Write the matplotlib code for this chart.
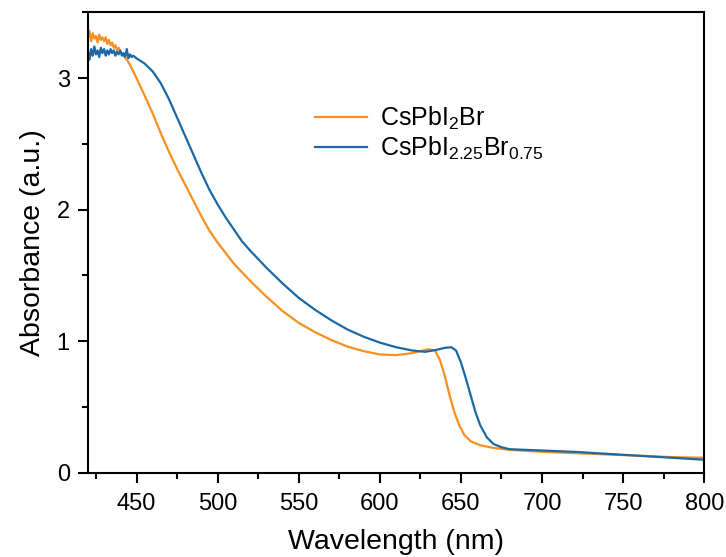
import matplotlib
matplotlib.use("Agg")
import matplotlib.pyplot as plt
from matplotlib.ticker import MultipleLocator

plt.rcParams['font.family'] = ['Liberation Sans', 'DejaVu Sans']
plt.rcParams['mathtext.fontset'] = 'custom'
plt.rcParams['mathtext.rm'] = 'Liberation Sans'
plt.rcParams['mathtext.it'] = 'Liberation Sans:italic'

# CsPbI2Br absorbance
wl_a = [420, 421, 422, 423, 424, 425, 426, 427, 428, 429, 430, 431, 432, 433, 434,
        435, 436, 437, 438, 439, 440, 442, 444, 446, 448, 450, 453, 456, 460, 465,
        470, 475, 480, 485, 490, 495, 500, 510, 520, 530, 540, 550, 560, 570, 580,
        590, 600, 610, 620, 625, 630, 634, 637, 640, 643, 646, 649, 652, 656, 662,
        670, 680, 700, 720, 740, 760, 780, 800]
abs_a = [3.30, 3.36, 3.28, 3.34, 3.30, 3.32, 3.27, 3.33, 3.29, 3.31, 3.28, 3.31, 3.26, 3.29, 3.25,
         3.27, 3.23, 3.25, 3.21, 3.23, 3.20, 3.17, 3.14, 3.10, 3.05, 3.00, 2.92, 2.84, 2.73, 2.58,
         2.44, 2.31, 2.19, 2.07, 1.95, 1.84, 1.75, 1.59, 1.46, 1.34, 1.23, 1.14, 1.07, 1.01, 0.96,
         0.925, 0.90, 0.895, 0.91, 0.925, 0.94, 0.93, 0.86, 0.74, 0.59, 0.46, 0.36, 0.29, 0.24, 0.21,
         0.19, 0.175, 0.16, 0.15, 0.14, 0.13, 0.12, 0.115]

# CsPbI2.25Br0.75 absorbance
wl_b = [420, 421, 422, 423, 424, 425, 426, 427, 428, 429, 430, 431, 432, 433, 434,
        435, 436, 437, 438, 439, 440, 441, 442, 443, 444, 445, 446, 447, 448, 450,
        455, 460, 465, 470, 475, 480, 485, 490, 495, 500, 505, 510, 515, 520, 530,
        540, 550, 560, 570, 580, 590, 600, 610, 620, 628, 635, 640, 644, 647, 650,
        653, 656, 659, 662, 666, 670, 675, 680, 700, 720, 740, 760, 780, 800]
abs_b = [3.20, 3.14, 3.22, 3.17, 3.24, 3.18, 3.21, 3.16, 3.23, 3.19, 3.22, 3.17, 3.21, 3.18, 3.22,
         3.19, 3.21, 3.17, 3.20, 3.18, 3.21, 3.17, 3.19, 3.16, 3.22, 3.15, 3.18, 3.16, 3.17, 3.15,
         3.11, 3.05, 2.96, 2.84, 2.70, 2.56, 2.42, 2.28, 2.15, 2.04, 1.94, 1.85, 1.76, 1.69, 1.56,
         1.44, 1.33, 1.24, 1.16, 1.09, 1.035, 0.99, 0.955, 0.93, 0.92, 0.935, 0.95, 0.955,
         0.93, 0.84, 0.72, 0.59, 0.46, 0.36, 0.27, 0.22, 0.195, 0.18, 0.17, 0.16, 0.145, 0.13, 0.115, 0.10]

labels = [r'CsPbI$_\mathregular{2}$Br', r'CsPbI$_\mathregular{2.25}$Br$_\mathregular{0.75}$']
colors = ['#F7901E', '#1B68A6']

fig = plt.figure(figsize=(7.26, 5.57), dpi=100)
ax = fig.add_axes([0.121, 0.151, 0.849, 0.827])

ax.plot(wl_a, abs_a, color=colors[0], lw=1.6, label=labels[0])
ax.plot(wl_b, abs_b, color=colors[1], lw=1.6, label=labels[1])

ax.set_xlim(420, 800)
ax.set_ylim(0, 3.5)
ax.xaxis.set_major_locator(MultipleLocator(50))
ax.xaxis.set_minor_locator(MultipleLocator(25))
ax.yaxis.set_major_locator(MultipleLocator(1))
ax.yaxis.set_minor_locator(MultipleLocator(0.5))
ax.tick_params(which='major', direction='out', length=7, width=1.5, labelsize=17)
ax.tick_params(which='minor', direction='out', length=4, width=1.5)
ax.tick_params(axis='x', which='major', pad=7.5)
ax.tick_params(axis='y', which='major', pad=6)
for s in ax.spines.values():
    s.set_linewidth(1.5)

ax.set_xlabel('Wavelength (nm)', fontsize=20.5, labelpad=10)
ax.set_ylabel('Absorbance (a.u.)', fontsize=20.5, labelpad=8)

ax.legend(loc='upper left', bbox_to_anchor=(0.3685, 0.80), frameon=False,
          fontsize=18, handlelength=2.08, handletextpad=0.52, labelspacing=0.12,
          borderpad=0, borderaxespad=0)

fig.savefig('out.png', dpi=100)
